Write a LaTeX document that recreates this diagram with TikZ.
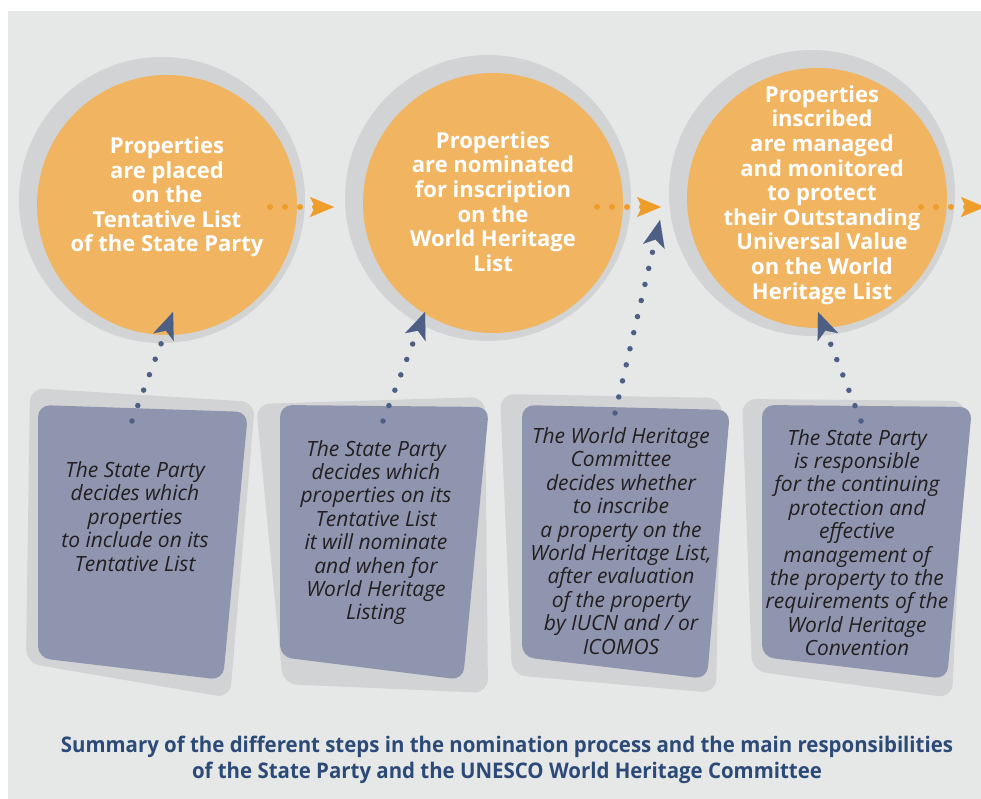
\documentclass[tikz,border=0pt]{standalone}
\usepackage{fontspec}
\setmainfont{Open Sans}
\newfontfamily\capfont[FakeStretch=0.95]{Open Sans}
\usetikzlibrary{arrows.meta}
\definecolor{bggray}{HTML}{E6E8E7}
\definecolor{ringgray}{HTML}{D1D3D4}
\definecolor{discorange}{HTML}{F1B562}
\definecolor{flowamber}{HTML}{EF9D2A}
\definecolor{cardblue}{HTML}{8F95AE}
\definecolor{linkblue}{HTML}{4E5F86}
\definecolor{inkdark}{HTML}{231F20}
\definecolor{titleblue}{HTML}{2C4A78}

\begin{document}
\begin{tikzpicture}[line cap=round,line join=round,x=1pt,y=-1pt,
	disc/.style={circle,fill=discorange,minimum size=260,inner sep=0pt},
	disctext/.style={text=white,align=center,font=\bfseries\fontsize{22}{24.6}\selectfont},
	cardtext/.style={text=inkdark,align=center,font=\itshape\fontsize{21}{23.4}\selectfont},
	flowdots/.style={draw=flowamber,line width=6,dash pattern=on 0pt off 15pt,
		-{Stealth[length=24pt,width=20pt,inset=5pt,line width=0.1pt]}},
	linkdots/.style={draw=linkblue,line width=5.5,dash pattern=on 0pt off 16.5pt,
		-{Stealth[length=27pt,width=22pt,inset=7pt,line width=0.1pt]}}]
	\useasboundingbox (0,0) rectangle (981,799);
	\fill[bggray] (8,11) rectangle (981,799);
	%%%%%%%%%%%%%%% C I R C L E S %%%%%%%%%%%%%%%%
	%rings
	\fill[ringgray] (162,200) circle (143);
	\fill[ringgray] (488,198) circle (143);
	\fill[ringgray] (812,193) circle (143);
	%discs
	\node[disc] (c1) at (167,205) {};
	\node[disc] (c2) at (493,203) {};
	\node[disc] (c3) at (817,198) {};
	%%%%%%%%%%%%%%% C A R D S %%%%%%%%%%%%%%%%
	%card 1
	\fill[ringgray,rounded corners=14] (30,388) -- (255,402) -- (230,698) -- (26,663) -- cycle;
	\fill[cardblue,rounded corners=12] (38,405) -- (248,412) -- (223,680) -- (38,658) -- cycle;
	%card 2
	\fill[ringgray,rounded corners=14] (256,404) -- (485,397) -- (488,693) -- (283,684) -- cycle;
	\fill[cardblue,rounded corners=12] (280,405) -- (489,407) -- (463,680) -- (280,657) -- cycle;
	%card 3
	\fill[ringgray,rounded corners=14] (500,394) -- (722,398) -- (716,693) -- (512,675) -- cycle;
	\fill[cardblue,rounded corners=12] (522,405) -- (730,410) -- (707,679) -- (522,657) -- cycle;
	%card 4
	\fill[ringgray,rounded corners=14] (742,399) -- (966,401) -- (952,698) -- (752,671) -- cycle;
	\fill[cardblue,rounded corners=12] (762,405) -- (972,407) -- (947,679) -- (762,657) -- cycle;
	%%%%%%%%%%%%%%% A R R O W S %%%%%%%%%%%%%%%%
	%orange, circle to circle
	\coordinate (o1a) at (270,207);
	\coordinate (o1b) at (334,207);
	\coordinate (o2a) at (597,207);
	\coordinate (o2b) at (661,207);
	\coordinate (o3a) at (921,207);
	\coordinate (o3b) at (985,207);
	\draw[flowdots] (o1a) -- (o1b);
	\draw[flowdots] (o2a) -- (o2b);
	\draw[flowdots] (o3a) -- (o3b);
	%blue, card to circle
	\coordinate (u1a) at (132,421);
	\coordinate (u1b) at (173,312);
	\coordinate (u2a) at (383,421);
	\coordinate (u2b) at (425,312);
	\coordinate (u3a) at (615,413);
	\coordinate (u3b) at (660,220);
	\coordinate (u4a) at (861,421);
	\coordinate (u4b) at (818,312);
	\draw[linkdots] (u1a) -- (u1b);
	\draw[linkdots] (u2a) -- (u2b);
	\draw[linkdots] (u3a) -- (u3b);
	\draw[linkdots] (u4a) -- (u4b);
	%%%%%%%%%%%%%%% T A G S %%%%%%%%%%%%%%%%
	\node[disctext] (t1) at (167,197) {Properties\\are placed\\on the\\Tentative List\\of the State Party};
	\node[disctext] (t2) at (493,201.5) {Properties\\are nominated\\for inscription\\on the\\World Heritage\\List};
	\node[disctext] (t3) at (822,195) {Properties\\inscribed\\are managed\\and monitored\\to protect\\their Outstanding\\Universal Value\\on the World\\Heritage List};
	\node[cardtext] (k1) at (135,516.5) {The State Party\\decides which\\properties\\to include on its\\Tentative List};
	\node[cardtext] (k2) at (376,532.5) {The State Party\\decides which\\properties on its\\Tentative List\\it will nominate\\and when for\\World Heritage\\Listing};
	\node[cardtext] (k3) at (621,541) {The World Heritage\\Committee\\decides whether\\to inscribe\\a property on the\\World Heritage List,\\after evaluation\\of the property\\by IUCN and / or\\ICOMOS};
	\node[cardtext] (k4) at (857,542.5) {The State Party\\is responsible\\for the continuing\\protection and\\effective\\management of\\the property to the\\requirements of the\\World Heritage\\Convention};
	\node[text=titleblue,align=center,font=\capfont\bfseries\fontsize{21.5}{26}\selectfont] (cap) at (507,760)
		{Summary of the different steps in the nomination process and the main responsibilities\\of the State Party and the UNESCO World Heritage Committee};
\end{tikzpicture}
\end{document}
